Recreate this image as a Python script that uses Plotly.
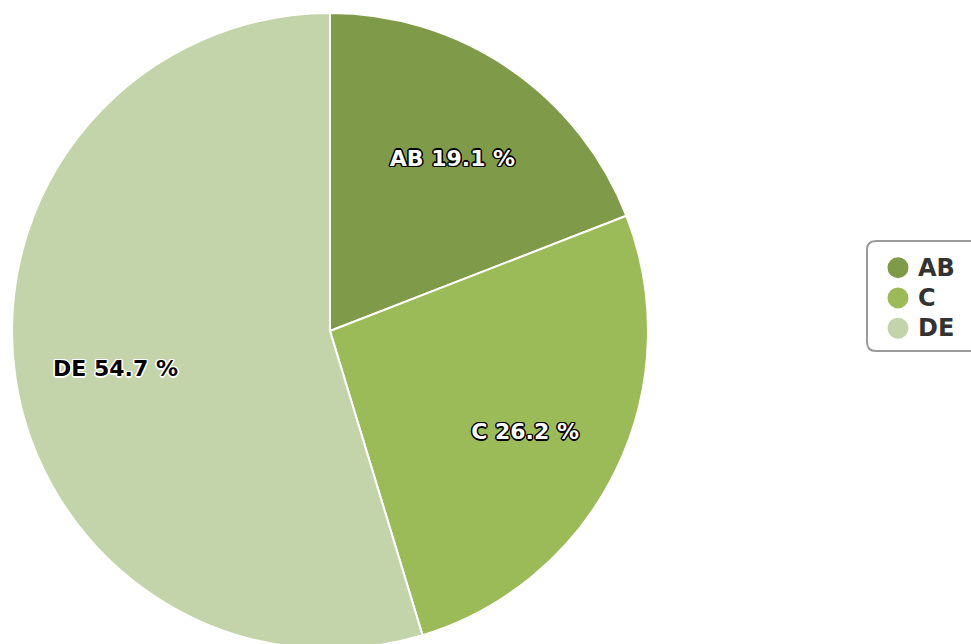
import plotly.graph_objects as go

categories = ["AB", "C", "DE"]
values = [19.1, 26.2, 54.7]
colors = ["#7f9a48", "#9bbb59", "#c4d4aa"]
text_colors = ["#ffffff", "#ffffff", "#000000"]

def outline(c):
    offs = [(-1, -1), (0, -1), (1, -1), (-1, 0), (1, 0), (-1, 1), (0, 1), (1, 1),
            (-1.5, 0), (1.5, 0), (0, 1.5), (0, -1.5)]
    return ", ".join(f"{dx}px {dy}px 0 {c}" for dx, dy in offs)

shadows = [outline("#000000"), outline("#000000"), outline("#ffffff")]

W, H = 971, 649
ML, MT = 12, 13
dom = [0, (H - MT) / (W - ML)]

fig = go.Figure()
# colored slices
fig.add_trace(go.Pie(
    labels=categories, values=values, sort=False, direction="clockwise", rotation=0,
    marker=dict(colors=colors, line=dict(color="#ffffff", width=2)),
    textinfo="none", showlegend=False, hoverinfo="skip",
    domain=dict(x=dom, y=[0, 1]),
))
# label layer (ring so labels sit at ~0.7 radius)
fig.add_trace(go.Pie(
    labels=categories, values=values, sort=False, direction="clockwise", rotation=0,
    hole=0.39,
    marker=dict(colors=["rgba(0,0,0,0)"] * len(categories), line=dict(width=0)),
    texttemplate="%{label} %{value:.1f} %",
    textposition="inside",
    insidetextorientation="horizontal",
    textfont=dict(family="DejaVu Sans", size=22, weight="bold", color=text_colors, shadow=shadows),
    showlegend=False,
    hoverinfo="label+value",
    domain=dict(x=dom, y=[0, 1 - 12 / (H - MT)]),
))
for name, col in zip(categories, colors):
    fig.add_trace(go.Scatter(
        x=[None], y=[None], mode="markers",
        name=f"<span style='font-size:24px'>{name}</span>",
        marker=dict(color=col, size=16, symbol="circle", line=dict(color=col, width=5)),
    ))

# rounded legend frame (pixel layout -> paper coords)
def px(x):
    return (x - ML) / (W - ML)

def py(y):
    return 1 - (y - MT) / (H - MT)

x0, x1, y0, y1, rr = 867, 990, 241, 351, 9
path = (f"M {px(x0 + rr)},{py(y0)} L {px(x1 - rr)},{py(y0)} "
        f"Q {px(x1)},{py(y0)} {px(x1)},{py(y0 + rr)} L {px(x1)},{py(y1 - rr)} "
        f"Q {px(x1)},{py(y1)} {px(x1 - rr)},{py(y1)} L {px(x0 + rr)},{py(y1)} "
        f"Q {px(x0)},{py(y1)} {px(x0)},{py(y1 - rr)} L {px(x0)},{py(y0 + rr)} "
        f"Q {px(x0)},{py(y0)} {px(x0 + rr)},{py(y0)} Z")

fig.update_layout(
    width=W, height=H,
    paper_bgcolor="white",
    plot_bgcolor="white",
    margin=dict(l=ML, r=0, t=MT, b=0, autoexpand=False),
    xaxis=dict(visible=False),
    yaxis=dict(visible=False),
    shapes=[dict(type="path", xref="paper", yref="paper", path=path,
                 line=dict(color="#9a9a9a", width=2), fillcolor="rgba(0,0,0,0)", layer="above")],
    legend=dict(
        x=px(878), y=py(298), xanchor="left", yanchor="middle",
        borderwidth=0, bgcolor="rgba(0,0,0,0)",
        font=dict(family="DejaVu Sans", size=21, color="#333333", weight="bold"),
        itemsizing="trace",
    ),
)
fig.write_html("out.html", config={"displayModeBar": False},
               post_script="document.body.style.margin='0';document.body.style.overflow='hidden';")
